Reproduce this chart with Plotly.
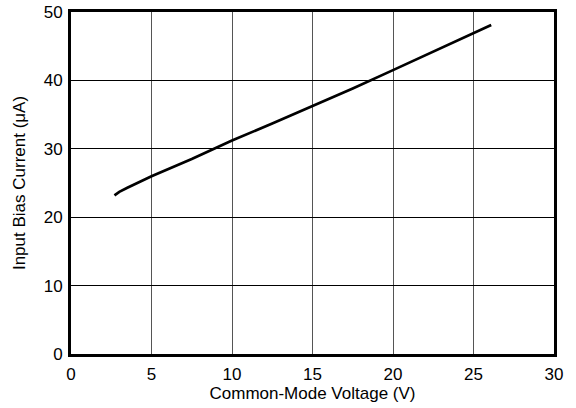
import plotly.graph_objects as go

vcm = [2.7, 3.0, 3.5, 4.0, 5.0, 7.5, 10.0, 12.5, 15.0, 17.5, 20.0, 22.5, 25.0, 26.1]
ib = [23.2, 23.7, 24.3, 24.9, 26.0, 28.5, 31.2, 33.7, 36.2, 38.8, 41.5, 44.2, 47.0, 48.1]

x_ticks = [0, 5, 10, 15, 20, 25, 30]
y_ticks = [0, 10, 20, 30, 40, 50]

fig = go.Figure()
fig.add_trace(go.Scatter(x=vcm, y=ib, mode="lines",
                         line=dict(color="black", width=2.7),
                         showlegend=False))

font = dict(family="Liberation Sans, Arial, sans-serif", color="black")

fig.update_layout(
    width=576, height=408,
    margin=dict(l=71, r=22, t=12, b=54),
    paper_bgcolor="white", plot_bgcolor="white",
    font=font,
    xaxis=dict(range=[0, 30], tickvals=x_ticks, ticks="", showgrid=True,
               gridcolor="#555555", gridwidth=1, zeroline=False,
               showline=True, linecolor="black", linewidth=3, mirror=True,
               automargin=False, ticklabelstandoff=3,
               tickfont=dict(size=17), title=dict(text="Common-Mode Voltage (V)",
               font=dict(size=17), standoff=0)),
    yaxis=dict(range=[0, 50], tickvals=y_ticks, ticks="", showgrid=True,
               gridcolor="black", gridwidth=1, zeroline=False,
               showline=True, linecolor="black", linewidth=3, mirror=True,
               automargin=False, ticklabelstandoff=2,
               tickfont=dict(size=17), title=dict(text="Input Bias Current (μA)",
               font=dict(size=17), standoff=14)),
)

fig.write_html("out.html", config={"displayModeBar": False},
               post_script="document.body.style.margin='0';document.body.style.overflow='hidden';")
